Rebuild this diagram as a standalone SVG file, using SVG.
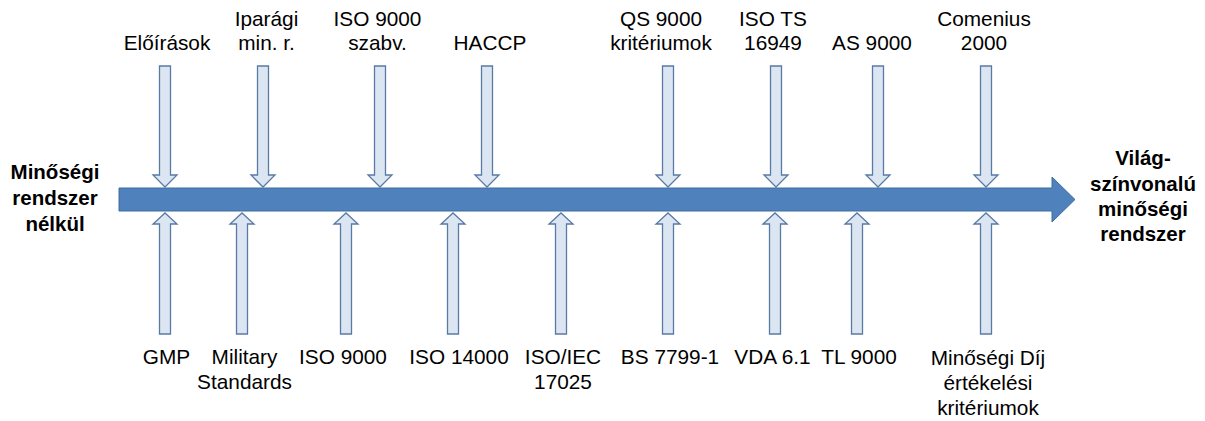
<svg xmlns="http://www.w3.org/2000/svg" xmlns:xlink="http://www.w3.org/1999/xlink" width="1205" height="421" viewBox="0 0 1205 421">
<style>
.t{font-family:"Liberation Sans",Arial,sans-serif;font-size:20.8px;fill:#000;text-anchor:middle}
.b{font-weight:bold;font-size:20.5px}
.sa{fill:#DCE6F2;stroke:#5A7AA6;stroke-width:1.3}
.main{fill:#4F81BD;stroke:#3F6D9F;stroke-width:1}
</style>
<defs>
<path id="dn" d="M-5.5,66 H5.5 V175 H12 L0,187 L-12,175 H-5.5 Z"/>
<path id="up" d="M-5.5,334 H5.5 V224 H12 L0,213 L-12,224 H-5.5 Z"/>
</defs>
<rect width="1205" height="421" fill="#fff"/>
<g id="connectors">
<path id="main-arrow" class="main" d="M119,188 H1052 V177 L1075,199.5 L1052,222 V211 H119 Z"/>
<g class="sa">
<use xlink:href="#dn" x="165"/>
<use xlink:href="#dn" x="263"/>
<use xlink:href="#dn" x="380"/>
<use xlink:href="#dn" x="487"/>
<use xlink:href="#dn" x="668"/>
<use xlink:href="#dn" x="776"/>
<use xlink:href="#dn" x="878"/>
<use xlink:href="#dn" x="986"/>
<use xlink:href="#up" x="165"/>
<use xlink:href="#up" x="242"/>
<use xlink:href="#up" x="346"/>
<use xlink:href="#up" x="453"/>
<use xlink:href="#up" x="561"/>
<use xlink:href="#up" x="668"/>
<use xlink:href="#up" x="775"/>
<use xlink:href="#up" x="857"/>
<use xlink:href="#up" x="986"/>
</g>
</g>
<g id="start"><text class="t b" x="55" y="179">Minőségi</text><text class="t b" x="55" y="205">rendszer</text><text class="t b" x="55" y="231">nélkül</text></g>
<g id="end"><text class="t b" x="1143" y="165">Világ-</text><text class="t b" x="1143" y="190.5">színvonalú</text><text class="t b" x="1143" y="216">minőségi</text><text class="t b" x="1143" y="241">rendszer</text></g>
<g id="top-1"><text class="t" x="167" y="50">Előírások</text></g>
<g id="top-2"><text class="t" x="266.5" y="26">Iparági</text><text class="t" x="266.5" y="50">min. r.</text></g>
<g id="top-3"><text class="t" x="377.5" y="26">ISO 9000</text><text class="t" x="377.5" y="50">szabv.</text></g>
<g id="top-4"><text class="t" x="490" y="50">HACCP</text></g>
<g id="top-5"><text class="t" x="661" y="26">QS 9000</text><text class="t" x="661" y="50">kritériumok</text></g>
<g id="top-6"><text class="t" x="773" y="26">ISO TS</text><text class="t" x="773" y="50">16949</text></g>
<g id="top-7"><text class="t" x="872" y="50">AS 9000</text></g>
<g id="top-8"><text class="t" x="984" y="26">Comenius</text><text class="t" x="984" y="50">2000</text></g>
<g id="bot-1"><text class="t" x="166.5" y="364">GMP</text></g>
<g id="bot-2"><text class="t" x="244.5" y="364">Military</text><text class="t" x="244.5" y="389">Standards</text></g>
<g id="bot-3"><text class="t" x="343" y="364">ISO 9000</text></g>
<g id="bot-4"><text class="t" x="459" y="364">ISO 14000</text></g>
<g id="bot-5"><text class="t" x="563" y="364">ISO/IEC</text><text class="t" x="563" y="389">17025</text></g>
<g id="bot-6"><text class="t" x="670" y="364">BS 7799-1</text></g>
<g id="bot-7"><text class="t" x="772.5" y="364">VDA 6.1</text></g>
<g id="bot-8"><text class="t" x="859" y="364">TL 9000</text></g>
<g id="bot-9"><text class="t" x="988" y="365">Minőségi Díj</text><text class="t" x="988" y="390">értékelési</text><text class="t" x="988" y="415">kritériumok</text></g>
</svg>
